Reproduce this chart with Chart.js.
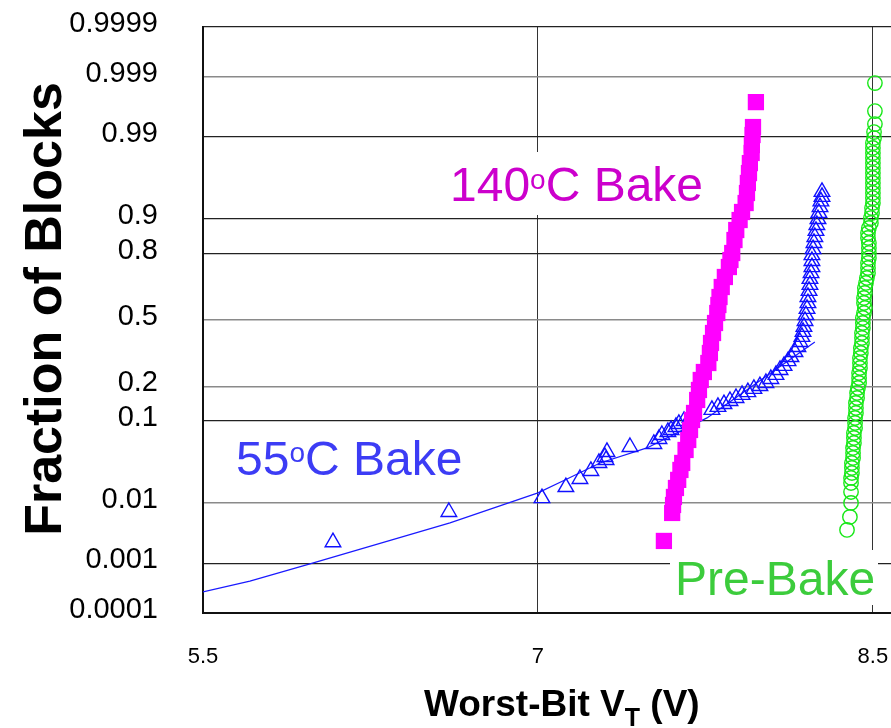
<!DOCTYPE html>
<html>
<head>
<meta charset="utf-8">
<script src="https://cdn.jsdelivr.net/npm/chart.js@4.4.1/dist/chart.umd.min.js"></script>
<style>
body { margin: 0; background: #fff; }
canvas { display: block; }
</style>
</head>
<body>
<canvas id="chartVt" width="891" height="728"></canvas>
<script>
// y axis is a normal probability scale: fractions are plotted at their probit
var yTickValues = [0.0001, 0.001, 0.01, 0.1, 0.2, 0.5, 0.8, 0.9, 0.99, 0.999, 0.9999];
var yTickLabels = ['0.0001', '0.001', '0.01', '0.1', '0.2', '0.5', '0.8', '0.9', '0.99', '0.999', '0.9999'];
var xTickValues = [5.5, 7, 8.5];
var xTickLabels = ['5.5', '7', '8.5'];

// 140C bake (squares)
var bake140V = [7.976, 7.963, 7.961, 7.958, 7.957, 7.949, 7.945, 7.940, 7.936, 7.930, 7.914, 7.903, 7.888, 7.880, 7.870,
  7.862, 7.855, 7.837, 7.823, 7.813, 7.808, 7.803, 7.793, 7.784, 7.775, 7.770, 7.763, 7.743, 7.729, 7.721, 7.713, 7.699,
  7.690, 7.681, 7.673, 7.661, 7.646, 7.638, 7.628, 7.618, 7.609, 7.605, 7.601, 7.564];
var bake140F = [0.99716, 0.99284, 0.99056, 0.9868, 0.9830, 0.9768, 0.9689, 0.959, 0.9465, 0.9312, 0.9148, 0.8978, 0.8733,
  0.845, 0.8024, 0.7768, 0.7494, 0.7074, 0.6623, 0.6148, 0.5755, 0.5354, 0.4848, 0.4345, 0.3852, 0.3377, 0.2926, 0.2546,
  0.2232, 0.1872, 0.155, 0.119, 0.1022, 0.0814, 0.0639, 0.0495, 0.0348, 0.0285, 0.0212, 0.0165, 0.01235, 0.00944, 0.00716,
  0.00252];

// 55C bake (triangles)
var bake55V = [6.082, 6.601, 7.018, 7.125, 7.188, 7.237, 7.273, 7.300, 7.305, 7.309, 7.412, 7.519, 7.542, 7.555, 7.582,
  7.596, 7.618, 7.631, 7.654, 7.681, 7.779, 7.806, 7.833, 7.860, 7.887, 7.914, 7.940, 7.967, 7.994, 8.021, 8.043, 8.066,
  8.084, 8.102, 8.120, 8.133, 8.151, 8.164, 8.173, 8.182, 8.187, 8.191, 8.196, 8.200, 8.205, 8.209, 8.209, 8.214, 8.218,
  8.218, 8.223, 8.227, 8.227, 8.227, 8.232, 8.236, 8.240, 8.245, 8.249, 8.254, 8.258, 8.263, 8.267, 8.272, 8.272];
var bake55F = [0.0024, 0.0074, 0.0119, 0.0170, 0.0218, 0.0277, 0.0348, 0.0410, 0.0378, 0.0470, 0.0535, 0.0578, 0.0655,
  0.0722, 0.0776, 0.0814, 0.0873, 0.0935, 0.100, 0.107, 0.127, 0.135, 0.143, 0.152, 0.161, 0.171, 0.180, 0.191, 0.201,
  0.212, 0.227, 0.243, 0.263, 0.280, 0.301, 0.319, 0.342, 0.366, 0.390, 0.415, 0.440, 0.465, 0.495, 0.525, 0.556, 0.585,
  0.615, 0.644, 0.672, 0.699, 0.724, 0.749, 0.773, 0.795, 0.816, 0.836, 0.854, 0.871, 0.886, 0.900, 0.913, 0.924, 0.934,
  0.941, 0.948];

// fitted line through the 55C data
var fit55V = [5.5, 5.710, 5.979, 6.606, 7.000, 7.130, 7.278, 7.488, 7.757, 8.240];
var fit55F = [0.00028, 0.00046, 0.00098, 0.0050, 0.0141, 0.0218, 0.0348, 0.0522, 0.107, 0.390];

// pre-bake (circles)
var preV = [8.509, 8.509, 8.509, 8.505, 8.505, 8.500, 8.500, 8.500, 8.500, 8.500, 8.500, 8.500, 8.500, 8.500, 8.500,
  8.500, 8.500, 8.500, 8.496, 8.496, 8.491, 8.491, 8.482, 8.478, 8.478, 8.482, 8.482, 8.482, 8.482, 8.478, 8.478, 8.478,
  8.473, 8.469, 8.464, 8.464, 8.460, 8.460, 8.464, 8.460, 8.455, 8.455, 8.455, 8.451, 8.451, 8.451, 8.446, 8.446, 8.442,
  8.442, 8.442, 8.438, 8.438, 8.438, 8.433, 8.429, 8.429, 8.424, 8.424, 8.424, 8.420, 8.420, 8.420, 8.415, 8.415, 8.415,
  8.411, 8.411, 8.411, 8.406, 8.406, 8.406, 8.402, 8.402, 8.402, 8.402, 8.397, 8.384];
var preF = [0.99868, 0.9960, 0.99356, 0.99148, 0.98955, 0.98765, 0.98548, 0.98296, 0.98010, 0.97682, 0.97313, 0.96892,
  0.96423, 0.95898, 0.95303, 0.94652, 0.93919, 0.93123, 0.92235, 0.91277, 0.90217, 0.89084, 0.87860, 0.86521, 0.85106,
  0.83573, 0.81964, 0.80234, 0.78435, 0.76517, 0.74537, 0.72441, 0.70298, 0.68081, 0.65763, 0.63420, 0.60988, 0.58551,
  0.56041, 0.53546, 0.51000, 0.48484, 0.45938, 0.43447, 0.40982, 0.38514, 0.36130, 0.33761, 0.31490, 0.29255, 0.27125,
  0.25048, 0.23087, 0.21213, 0.19407, 0.17722, 0.16108, 0.14617, 0.13200, 0.11900, 0.10675, 0.09561, 0.08519, 0.07578,
  0.06720, 0.05927, 0.05219, 0.04571, 0.03997, 0.03476, 0.03019, 0.02607, 0.02248, 0.01927, 0.01452, 0.01012, 0.00621,
  0.00385];

var FONT = '"Liberation Sans", Arial, sans-serif';

// inverse normal CDF (Acklam)
function probit(p) {
  var a = [-3.969683028665376e+01, 2.209460984245205e+02, -2.759285104469687e+02, 1.383577518672690e+02, -3.066479806614716e+01, 2.506628277459239e+00];
  var b = [-5.447609879822406e+01, 1.615858368580409e+02, -1.556989798598866e+02, 6.680131188771972e+01, -1.328068155288572e+01];
  var c = [-7.784894002430293e-03, -3.223964580411365e-01, -2.400758277161838e+00, -2.549732539343734e+00, 4.374664141464968e+00, 2.938163982698783e+00];
  var d = [7.784695709041462e-03, 3.224671290700398e-01, 2.445134137142996e+00, 3.754408661907416e+00];
  var q, r;
  if (p < 0.02425) {
    q = Math.sqrt(-2 * Math.log(p));
    return (((((c[0]*q+c[1])*q+c[2])*q+c[3])*q+c[4])*q+c[5]) / ((((d[0]*q+d[1])*q+d[2])*q+d[3])*q+1);
  }
  if (p > 1 - 0.02425) {
    q = Math.sqrt(-2 * Math.log(1 - p));
    return -(((((c[0]*q+c[1])*q+c[2])*q+c[3])*q+c[4])*q+c[5]) / ((((d[0]*q+d[1])*q+d[2])*q+d[3])*q+1);
  }
  q = p - 0.5; r = q * q;
  return (((((a[0]*r+a[1])*r+a[2])*r+a[3])*r+a[4])*r+a[5])*q / (((((b[0]*r+b[1])*r+b[2])*r+b[3])*r+b[4])*r+1);
}

function toPoints(xs, fs) {
  return xs.map(function (v, i) { return { x: v, y: probit(fs[i]) }; });
}

// text with a raised "o" for the degree sign, on a white box
function drawRich(ctx, x, base, parts, color, box) {
  ctx.save();
  ctx.fillStyle = '#fff';
  ctx.fillRect(box[0], box[1], box[2], box[3]);
  ctx.fillStyle = color;
  ctx.textAlign = 'left';
  ctx.textBaseline = 'alphabetic';
  parts.forEach(function (p) {
    ctx.font = p.size + 'px ' + FONT;
    ctx.fillText(p.t, x, base - (p.rise || 0));
    x += ctx.measureText(p.t).width;
  });
  ctx.restore();
}

var labelsPlugin = {
  id: 'labels',
  afterDatasetsDraw: function (chart) {
    var ctx = chart.ctx;
    drawRich(ctx, 450, 201, [{ t: '140', size: 48 }, { t: 'o', size: 28, rise: 12 }, { t: 'C Bake', size: 48 }],
      '#cc00cc', [444, 152, 262, 63]);
    drawRich(ctx, 236, 475, [{ t: '55', size: 48 }, { t: 'o', size: 28, rise: 13 }, { t: 'C Bake', size: 48 }],
      '#3c3cf5', [230, 432, 245, 56]);
    drawRich(ctx, 675, 595, [{ t: 'Pre-Bake', size: 48 }], '#3ccc3c', [670, 550, 208, 55]);
  },
  afterDraw: function (chart) {
    var ctx = chart.ctx;
    ctx.save();
    ctx.fillStyle = '#000';
    ctx.translate(61, 309);
    ctx.rotate(-Math.PI / 2);
    ctx.textAlign = 'center';
    ctx.textBaseline = 'alphabetic';
    ctx.font = 'bold 52px ' + FONT;
    ctx.fillText('Fraction of Blocks', 0, 0);
    ctx.restore();
    ctx.save();
    ctx.fillStyle = '#000';
    ctx.textBaseline = 'alphabetic';
    var x = 424;
    ctx.font = 'bold 37px ' + FONT;
    ctx.fillText('Worst-Bit V', x, 716);
    x += ctx.measureText('Worst-Bit V').width;
    ctx.font = 'bold 25px ' + FONT;
    ctx.fillText('T', x, 726);
    x += ctx.measureText('T').width;
    ctx.font = 'bold 37px ' + FONT;
    ctx.fillText(' (V)', x, 716);
    ctx.restore();
  }
};

var grayLines = [0.01, 0.2, 0.5, 0.999];

var ctx = document.getElementById('chartVt').getContext('2d');
var chartVt = new Chart(ctx, {
  type: 'scatter',
  data: {
    datasets: [{
      label: '140oC Bake',
      data: toPoints(bake140V, bake140F),
      pointStyle: 'rect',
      pointRadius: 11.5,
      backgroundColor: '#ff00ff',
      borderColor: '#ff00ff',
      borderWidth: 0
    }, {
      label: '55oC Bake',
      data: toPoints(bake55V, bake55F),
      pointStyle: 'triangle',
      pointRadius: 9,
      backgroundColor: 'rgba(0,0,0,0)',
      borderColor: '#1010ff',
      borderWidth: 1.4
    }, {
      label: '55oC fit',
      type: 'line',
      data: toPoints(fit55V, fit55F),
      borderColor: '#1a1aff',
      borderWidth: 1.2,
      pointRadius: 0,
      fill: false,
      tension: 0
    }, {
      label: 'Pre-Bake',
      data: toPoints(preV, preF),
      pointStyle: 'circle',
      pointRadius: 7.2,
      backgroundColor: 'rgba(0,0,0,0)',
      borderColor: '#18e818',
      borderWidth: 1.4
    }]
  },
  options: {
    responsive: false,
    animation: false,
    layout: { autoPadding: false, padding: { top: 27, right: 0, bottom: 0, left: 0 } },
    plugins: {
      legend: { display: false },
      tooltip: { enabled: false }
    },
    scales: {
      x: {
        type: 'linear',
        min: 5.5,
        max: 8.581,
        afterFit: function (s) { s.height = 115; s.paddingLeft = 0; s.paddingRight = 0; },
        afterBuildTicks: function (s) { s.ticks = xTickValues.map(function (v) { return { value: v }; }); },
        ticks: {
          padding: 0,
          color: '#000',
          font: { family: FONT, size: 22 },
          maxRotation: 0,
          callback: function (v, i) { return xTickLabels[i]; }
        },
        grid: {
          color: '#333',
          lineWidth: 1,
          drawTicks: true,
          tickLength: 31,
          tickColor: 'rgba(0,0,0,0)'
        },
        border: { color: '#111', width: 2 }
      },
      y: {
        type: 'linear',
        min: probit(0.0001),
        max: probit(0.9999),
        afterFit: function (s) { s.width = 203; s.paddingTop = 0; s.paddingBottom = 0; },
        afterBuildTicks: function (s) { s.ticks = yTickValues.map(function (v) { return { value: probit(v) }; }); },
        ticks: {
          padding: 0,
          labelOffset: -3,
          color: '#000',
          font: { family: FONT, size: 29 },
          callback: function (v, i) { return yTickLabels[i]; }
        },
        grid: {
          color: function (c) {
            var f = yTickValues[c.index];
            return grayLines.indexOf(f) >= 0 ? '#8a8a8a' : '#222';
          },
          lineWidth: function (c) {
            var f = yTickValues[c.index];
            return grayLines.indexOf(f) >= 0 ? 1.6 : 1.2;
          },
          drawTicks: true,
          tickLength: 45,
          tickColor: 'rgba(0,0,0,0)'
        },
        border: { color: '#111', width: 2 }
      }
    }
  },
  plugins: [labelsPlugin]
});
</script>
</body>
</html>
